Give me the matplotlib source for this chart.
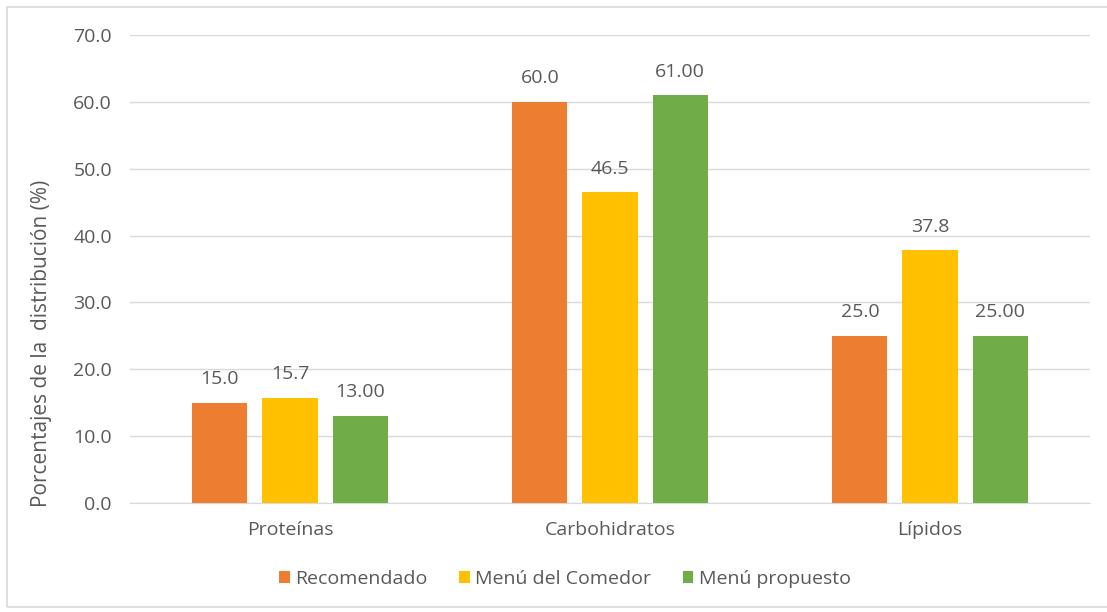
import matplotlib
matplotlib.use("Agg")
import matplotlib.pyplot as plt
from matplotlib.patches import Patch, Rectangle
import numpy as np

plt.rcParams['font.family'] = ['Open Sans', 'DejaVu Sans']

categories = ["Proteínas", "Carbohidratos", "Lípidos"]
series_names = ["Recomendado", "Menú del Comedor", "Menú propuesto"]
recomendado = [15.0, 60.0, 25.0]
menu_comedor = [15.7, 46.5, 37.8]
menu_propuesto = [13.00, 61.00, 25.00]
label_formats = ["{:.1f}", "{:.1f}", "{:.2f}"]
colors = ["#ED7D31", "#FFC000", "#70AD47"]
text_color = "#595959"

W, H = 1107, 612
fig = plt.figure(figsize=(W / 100, H / 100), dpi=100)
ax = fig.add_axes([130 / W, 1 - 503 / H, (1090 - 130) / W, (503 - 35) / H])

# light frame around the chart area
fig.patches.append(Rectangle((7 / W, 1 - 607 / H), 1.2, 600 / H, transform=fig.transFigure,
                             fill=False, edgecolor="#D9D9D9", linewidth=1.2))

x = np.arange(len(categories))
width = 0.172
step = 0.219
series = [recomendado, menu_comedor, menu_propuesto]
for i, (vals, name, col, fmt) in enumerate(zip(series, series_names, colors, label_formats)):
    pos = x + (i - 1) * step
    ax.bar(pos, vals, width, color=col, label=name, zorder=3)
    for p, v in zip(pos, vals):
        ax.annotate(fmt.format(v), (p, v), xytext=(0, 17), textcoords="offset points",
                    ha="center", va="center", fontsize=14, color=text_color)

ax.set_xlim(-0.5, 2.5)
ax.set_ylim(0, 70)
ax.set_yticks(np.arange(0, 71, 10))
ax.set_yticklabels([f"{v:.1f}" for v in np.arange(0, 71, 10)])
ax.set_xticks(x)
ax.set_xticklabels(categories)
ax.yaxis.grid(True, color="#D9D9D9", linewidth=1, zorder=0)
for s in ax.spines.values():
    s.set_visible(False)
ax.spines["bottom"].set_visible(True)
ax.spines["bottom"].set_color("#D9D9D9")
ax.tick_params(axis="both", length=0, labelsize=14, labelcolor=text_color)
ax.tick_params(axis="y", pad=13)
ax.tick_params(axis="x", pad=13)

fig.text(42 / W, 1 - 343 / H, "Porcentajes de la  distribución (%)", rotation=90,
         ha="center", va="center", fontsize=15, color=text_color)

handles = [Patch(facecolor=c, edgecolor="none") for c in colors]
fig.legend(handles, series_names, loc="center", bbox_to_anchor=(565 / W, 1 - 579 / H),
           ncol=3, frameon=False, fontsize=14, labelcolor=text_color,
           handlelength=0.55, handleheight=0.55, handletextpad=0.3, columnspacing=1.6)

fig.savefig("out.png", dpi=100)
